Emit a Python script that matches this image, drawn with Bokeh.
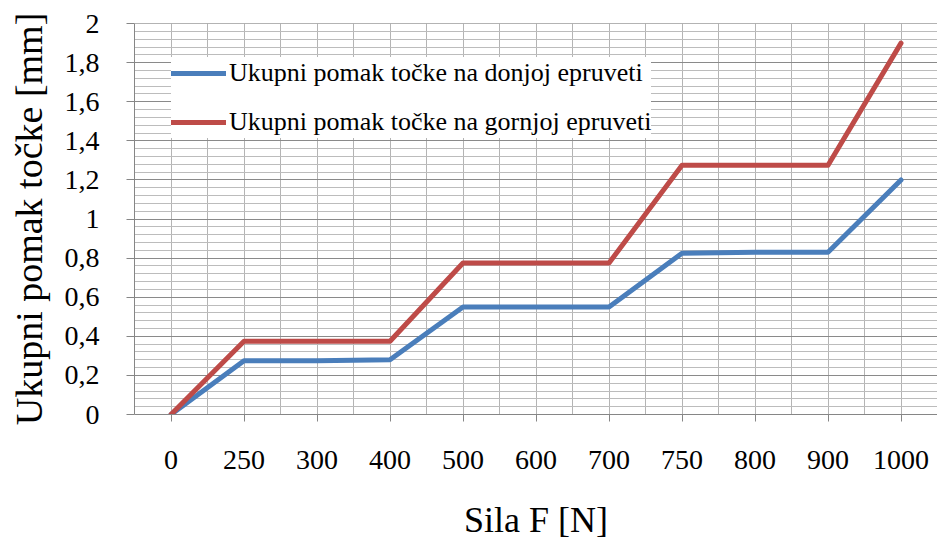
from bokeh.plotting import figure
from bokeh.models import FixedTicker, CustomJSTickFormatter, Range1d, Legend, LegendItem
from bokeh.embed import file_html
from bokeh.resources import INLINE

categories = ["0", "250", "300", "400", "500", "600", "700", "750", "800", "900", "1000"]
donja = [0.0, 0.275, 0.275, 0.28, 0.55, 0.55, 0.55, 0.825, 0.83, 0.83, 1.2]
gornja = [0.0, 0.375, 0.375, 0.375, 0.775, 0.775, 0.775, 1.275, 1.275, 1.275, 1.9]
y_ticks = [0, 0.2, 0.4, 0.6, 0.8, 1.0, 1.2, 1.4, 1.6, 1.8, 2.0]
y_minor = [round(i * 0.04, 2) for i in range(51)]

FONT = "Liberation Serif"
xs = list(range(len(categories)))

p = figure(width=937, height=542, output_backend="svg", toolbar_location=None,
           x_range=Range1d(-0.5, 10.5), y_range=Range1d(0, 2.0005),
           min_border_left=134, min_border_right=0, min_border_top=23, min_border_bottom=128)
p.outline_line_color = None
p.background_fill_color = "white"

r1 = p.line(xs, donja, line_color="#4a7ebb", line_width=5, line_cap="round", line_join="round")
r2 = p.line(xs, gornja, line_color="#be4b48", line_width=5, line_cap="round", line_join="round")

# x axis
p.xaxis.ticker = FixedTicker(ticks=xs, minor_ticks=[i + 0.5 for i in range(-1, len(categories))])
p.xaxis.formatter = CustomJSTickFormatter(args=dict(labels=categories), code="return labels[Math.round(tick)];")
p.xaxis.major_tick_out = 7
p.xaxis.major_tick_in = 0
p.xaxis.minor_tick_out = 0
p.xaxis.minor_tick_in = 0
p.xaxis.axis_label = "Sila F [N]"
p.xaxis.major_label_standoff = 29
p.xaxis.axis_label_standoff = 28

# y axis
p.yaxis.ticker = FixedTicker(ticks=y_ticks, minor_ticks=y_minor)
p.yaxis.formatter = CustomJSTickFormatter(code="return (Math.round(tick*10)/10).toString().replace('.', ',');")
p.yaxis.major_tick_out = 8
p.yaxis.major_tick_in = 0
p.yaxis.minor_tick_out = 0
p.yaxis.minor_tick_in = 0
p.yaxis.axis_label = "Ukupni pomak točke [mm]"
p.yaxis.major_label_standoff = 27
p.yaxis.axis_label_standoff = 12

for ax in (p.xaxis, p.yaxis):
    ax.axis_line_color = "#868686"
    ax.major_tick_line_color = "#868686"
    ax.major_label_text_font = FONT
    ax.major_label_text_font_size = "28px"
    ax.major_label_text_color = "black"
    ax.axis_label_text_font = FONT
    ax.axis_label_text_font_style = "normal"
    ax.axis_label_text_color = "black"
p.xaxis.axis_label_text_font_size = "36px"
p.yaxis.axis_label_text_font_size = "38px"

p.xgrid.grid_line_color = "#b4b4b4"
p.xgrid.minor_grid_line_color = "#b4b4b4"
p.ygrid.grid_line_color = "#8a8a8a"
p.ygrid.minor_grid_line_color = "#bcbcbc"

legend = Legend(items=[
    LegendItem(label="Ukupni pomak točke na donjoj epruveti", renderers=[r1]),
    LegendItem(label="Ukupni pomak točke na gornjoj epruveti", renderers=[r2]),
], location=(37, 276))
legend.label_text_font = FONT
legend.label_text_font_size = "26px"
legend.label_text_color = "black"
legend.label_height = 32
legend.glyph_height = 32
legend.glyph_width = 55
legend.label_standoff = 3
legend.spacing = 17
legend.padding = 5
legend.margin = 0
legend.border_line_color = None
legend.background_fill_color = "white"
legend.background_fill_alpha = 1.0
p.add_layout(legend, "center")

open("out.html", "w").write(file_html(p, INLINE))
